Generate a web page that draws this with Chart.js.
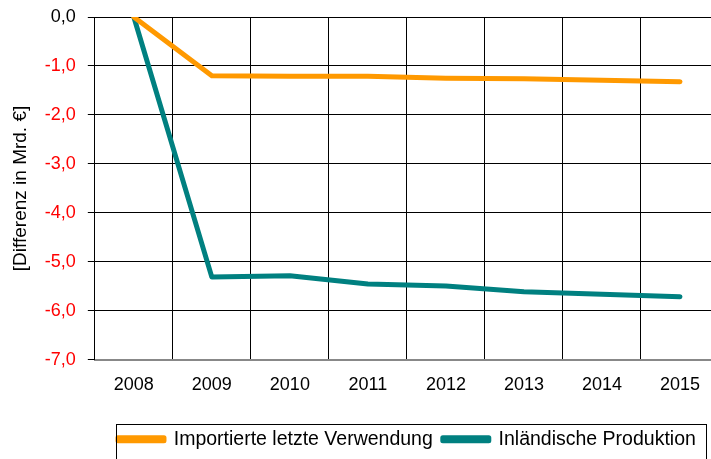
<!DOCTYPE html>
<html>
<head>
<meta charset="utf-8">
<script src="https://cdn.jsdelivr.net/npm/chart.js@4"></script>
<style>
  html, body { margin: 0; padding: 0; background: #fff; overflow: hidden; }
  #wrap { width: 720px; height: 459px; }
</style>
</head>
<body>
<div id="wrap"><canvas id="grafico1" width="720" height="459"></canvas></div>
<script>
// Datos del gráfico
var jahre = ['2008', '2009', '2010', '2011', '2012', '2013', '2014', '2015'];
var importierte = [0, -1.20, -1.21, -1.21, -1.25, -1.26, -1.29, -1.32];
var inlaendisch = [0, -5.31, -5.28, -5.45, -5.49, -5.61, -5.66, -5.71];
var serienNamen = ['Importierte letzte Verwendung', 'Inländische Produktion'];
var yMin = -7, yMax = 0, yStep = 1;

var schrift = 'Liberation Sans, Arial, sans-serif';

// Rahmen um die Legende
var legendeRahmen = {
    id: 'legendeRahmen',
    afterDraw: function (chart) {
        var boxes = chart.legend.legendHitBoxes;
        if (!boxes || !boxes.length) return;
        var left = boxes[0].left - 2;
        var last = boxes[boxes.length - 1];
        var right = last.left + last.width + 10;
        var top = boxes[0].top - 6;
        var c = chart.ctx;
        c.save();
        c.strokeStyle = '#000';
        c.lineWidth = 1;
        c.strokeRect(Math.round(left) + 0.5, Math.round(top) + 0.5, Math.round(right - left), 60);
        c.restore();
    }
};

var ctx = document.getElementById('grafico1').getContext('2d');
var grafico1 = new Chart(ctx, {
    type: 'line',
    data: {
        labels: jahre,
        datasets: [{
            label: serienNamen[0],
            data: importierte,
            borderColor: '#FF9900',
            backgroundColor: '#FF9900',
            borderWidth: 5,
            borderCapStyle: 'round',
            borderJoinStyle: 'round',
            pointRadius: 0,
            tension: 0
        }, {
            label: serienNamen[1],
            data: inlaendisch,
            borderColor: '#008080',
            backgroundColor: '#008080',
            borderWidth: 5,
            borderCapStyle: 'round',
            borderJoinStyle: 'round',
            pointRadius: 0,
            tension: 0
        }]
    },
    options: {
        responsive: false,
        animation: false,
        layout: { padding: { top: 17, right: 1, left: 7, bottom: 0 } },
        plugins: {
            legend: {
                position: 'bottom',
                fullSize: false,
                labels: {
                    boxWidth: 46,
                    boxHeight: 3,
                    padding: 10,
                    color: '#000',
                    font: { family: schrift, size: 19.5 }
                }
            },
            tooltip: { enabled: false }
        },
        scales: {
            x: {
                offset: true,
                grid: { offset: true, color: '#000', lineWidth: 1, drawTicks: false },
                border: { color: '#888', width: 2 },
                ticks: {
                    color: '#000',
                    padding: 14,
                    font: { family: schrift, size: 18 }
                },
                afterFit: function (scale) { scale.height += 10; }
            },
            y: {
                min: yMin,
                max: yMax,
                grid: { color: '#000', lineWidth: 1, tickLength: 7 },
                border: { color: '#000', width: 1 },
                ticks: {
                    stepSize: yStep,
                    padding: 12,
                    font: { family: schrift, size: 18 },
                    color: function (c) { return c.tick.value === 0 ? '#000' : '#FF0000'; },
                    callback: function (v) { return v.toFixed(1).replace('.', ','); }
                },
                afterFit: function (scale) { scale.paddingTop = 0; },
                title: {
                    display: true,
                    text: '[Differenz in Mrd. €]',
                    color: '#000',
                    padding: { top: 2, bottom: 1 },
                    font: { family: schrift, size: 19 }
                }
            }
        }
    },
    plugins: [legendeRahmen]
});
</script>
</body>
</html>
